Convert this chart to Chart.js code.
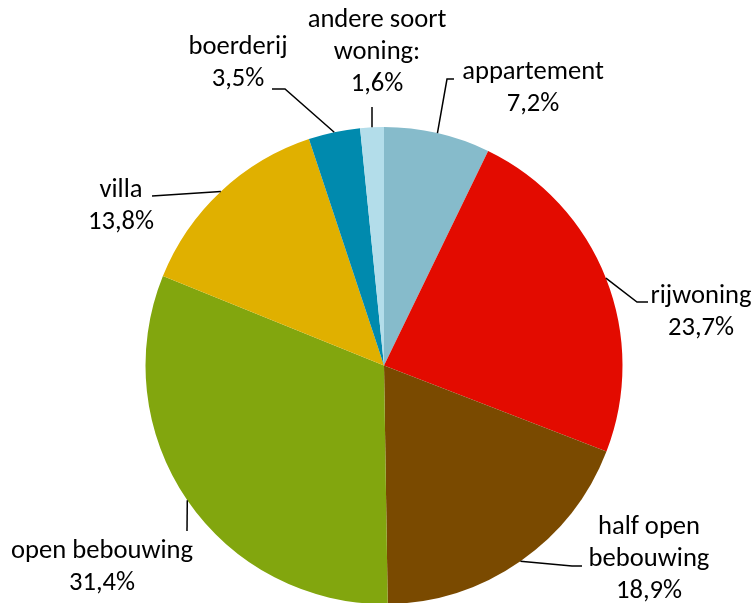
<!DOCTYPE html>
<html>
<head>
<meta charset="utf-8">
<script src="https://cdn.jsdelivr.net/npm/chart.js@4"></script>
<style>
  html, body { margin: 0; padding: 0; background: #fff; overflow: hidden; }
  #wrap { position: relative; width: 756px; height: 605px; }
</style>
</head>
<body>
<div id="wrap"><canvas id="c"></canvas></div>
<script>
// ---- data ----
const categories = ['appartement', 'rijwoning', 'half open bebouwing', 'open bebouwing', 'villa', 'boerderij', 'andere soort woning:'];
const values = [7.2, 23.7, 18.9, 31.4, 13.8, 3.5, 1.6];
const valueLabels = ['7,2%', '23,7%', '18,9%', '31,4%', '13,8%', '3,5%', '1,6%'];
const labelLines = [
  ['appartement'],
  ['rijwoning'],
  ['half open', 'bebouwing'],
  ['open bebouwing'],
  ['villa'],
  ['boerderij'],
  ['andere soort', 'woning:']
];
const colors = ['#86BBCB', '#E30B00', '#7A4A00', '#82A60E', '#E0B000', '#008AAE', '#B3DDEA'];

// ---- label layout (text block centre, leader elbow, leader end) ----
const labelLayout = [
  { cx: 533, top: 72,  elbow: [447, 79],  end: [454, 79] },
  { cx: 701, top: 296, elbow: [637, 302], end: [648, 302] },
  { cx: 649, top: 527, elbow: [572, 566], end: [582, 566] },
  { cx: 102, top: 551, elbow: [187, 531], end: [187, 531] },
  { cx: 121, top: 190, elbow: [152, 196], end: [152, 196] },
  { cx: 238, top: 47,  elbow: [285, 89],  end: [272, 89] },
  { cx: 377, top: 20,  elbow: [372, 107], end: [372, 107] }
];
const FONT = '26.6px Carlito, Lato, sans-serif';
const LINE_H = 32;

const labelPlugin = {
  id: 'outLabels',
  afterDatasetsDraw(chart) {
    const ctx = chart.ctx;
    const meta = chart.getDatasetMeta(0);
    ctx.save();
    meta.data.forEach((arc, i) => {
      const p = arc.getProps(['x', 'y', 'startAngle', 'endAngle', 'outerRadius'], true);
      const mid = (p.startAngle + p.endAngle) / 2;
      const sx = p.x + Math.cos(mid) * p.outerRadius;
      const sy = p.y + Math.sin(mid) * p.outerRadius;
      const L = labelLayout[i];
      ctx.strokeStyle = '#000';
      ctx.lineWidth = 1.5;
      ctx.beginPath();
      ctx.moveTo(sx, sy);
      ctx.lineTo(L.elbow[0], L.elbow[1]);
      ctx.lineTo(L.end[0], L.end[1]);
      ctx.stroke();
      ctx.fillStyle = '#000';
      ctx.font = FONT;
      ctx.textAlign = 'center';
      ctx.textBaseline = 'middle';
      const lines = labelLines[i].concat([valueLabels[i]]);
      lines.forEach((t, k) => ctx.fillText(t, L.cx, L.top + k * LINE_H));
    });
    ctx.restore();
  }
};

new Chart(document.getElementById('c'), {
  type: 'pie',
  data: {
    labels: categories,
    datasets: [{
      data: values,
      backgroundColor: colors,
      borderWidth: 0
    }]
  },
  options: {
    responsive: true,
    maintainAspectRatio: false,
    animation: false,
    layout: { padding: { top: 127, left: 145, right: 133, bottom: 1 } },
    plugins: { legend: { display: false }, tooltip: { enabled: false } }
  },
  plugins: [labelPlugin]
});
</script>
</body>
</html>
